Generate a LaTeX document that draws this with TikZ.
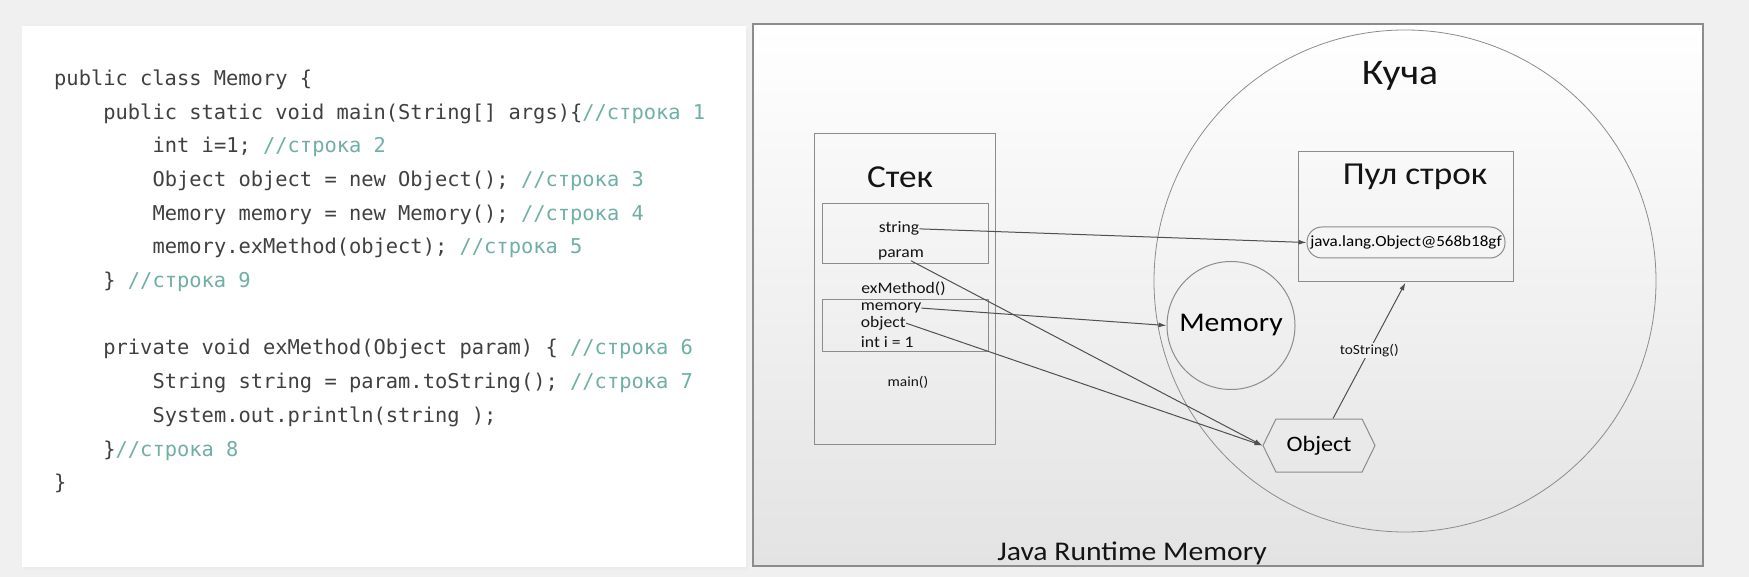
\documentclass[tikz,border=0pt]{standalone}
\usepackage{fontspec}
\setmainfont{Carlito}[FakeStretch=1.1]
\setmonofont{DejaVu Sans Mono}
\usetikzlibrary{arrows.meta,shapes.symbols}

\definecolor{codegray}{HTML}{404040}
\definecolor{cmtteal}{HTML}{6FAFA6}
\definecolor{pagebg}{HTML}{F0F0F0}
\definecolor{linegray}{HTML}{8C8C8C}
\definecolor{arrowgray}{HTML}{505050}

\tikzset{
  code/.style={anchor=base west, inner sep=0pt, text=codegray, font=\ttfamily\fontsize{20.4}{24}\selectfont},
  frame/.style={draw=linegray, line width=1pt, inner sep=0pt},
  lbl/.style={inner sep=0pt, text=black!92},
  varS/.style={lbl, font=\fontsize{16}{16}\selectfont},
  varXS/.style={lbl, font=\fontsize{14}{14}\selectfont},
  ref/.style={->, draw=arrowgray, line width=1pt},
}
\newcommand{\cmt}[1]{\textcolor{cmtteal}{#1}}

\begin{document}
\begin{tikzpicture}[x=1pt,y=-1pt,>={Latex[length=8pt,width=5pt]}]
\fill[pagebg] (0,0) rectangle (1749,577);
\useasboundingbox (0,0) rectangle (1749,577);

% code panel
\fill[black!7] (24,29) rectangle (749,570);
\fill[white] (22,26) rectangle (746,567);

\node[code] (l1)  at (54,85.4)    {public class Memory \{};
\node[code] (l2)  at (103.2,119.1) {public static void main(String[] args)\{\cmt{//строка 1}};
\node[code] (l3)  at (152.4,152.8) {int i=1; \cmt{//строка 2}};
\node[code] (l4)  at (152.4,186.5) {Object object = new Object(); \cmt{//строка 3}};
\node[code] (l5)  at (152.4,220.2) {Memory memory = new Memory(); \cmt{//строка 4}};
\node[code] (l6)  at (152.4,253.9) {memory.exMethod(object); \cmt{//строка 5}};
\node[code] (l7)  at (103.2,287.6) {\} \cmt{//строка 9}};
\node[code] (l8)  at (103.2,355.0) {private void exMethod(Object param) \{ \cmt{//строка 6}};
\node[code] (l9)  at (152.4,388.7) {String string = param.toString(); \cmt{//строка 7}};
\node[code] (l10) at (152.4,422.4) {System.out.println(string );};
\node[code] (l11) at (103.2,456.1) {\}\cmt{//строка 8}};
\node[code] (l12) at (54,489.8)    {\}};

% memory panel
\shade[top color=white, bottom color=black!11, draw=black!45, line width=2pt] (753,24) rectangle (1703,566);

\node[circle, frame, line width=0.8pt, minimum size=502pt] (heap) at (1405,281) {};
\node[lbl, anchor=base, font=\fontsize{36}{36}\selectfont] (heaplbl) at (1400,85) {Куча};

\node[frame, minimum width=181pt, minimum height=310pt] (stack) at (904.5,289) {};
\node[lbl, font=\fontsize{32}{32}\selectfont] (stacklbl) at (900,177) {Стек};
\node[frame, minimum width=166pt, minimum height=60pt] (exframe) at (905,234) {};
\node[frame, minimum width=166pt, minimum height=52pt] (mainframe) at (905,326) {};

\node[varS, anchor=base] (string) at (899,233) {string};
\node[varS, anchor=base] (param) at (901,258) {param};
\node[varS, anchor=base] (exlbl) at (903.5,294) {exMethod()};
\node[varS, anchor=base west] (memory) at (860.7,310.7) {memory};
\node[varS, anchor=base west] (object) at (860.7,327.3) {object};
\node[varS, anchor=base west] (inti) at (860.7,347.7) {int i = 1};
\node[varXS, anchor=base] (mainlbl) at (908,386.7) {main()};

\node[frame, minimum width=215pt, minimum height=130pt] (poolbox) at (1405.5,217) {};
\node[lbl, anchor=base, font=\fontsize{32}{32}\selectfont] (poollbl) at (1415,185) {Пул строк};
\node[frame, fill=white!96!black, rounded corners=15pt, minimum width=198pt, minimum height=31pt,
      font=\fontsize{15.5}{16}\selectfont] (pool) at (1406,242.5) {java.lang.Object@568b18gf};

\node[circle, frame, minimum size=128pt, font=\fontsize{27}{27}\selectfont] (memcirc) at (1231,325.5) {Memory};
\node[frame, signal, signal to=east and west, signal pointer angle=128, minimum width=112pt,
      minimum height=53pt, font=\fontsize{22}{22}\selectfont] (obj) at (1319,445.5) {Object};

\node[lbl, anchor=base, font=\fontsize{27}{27}\selectfont] (jrm) at (1132,560) {Java Runtime Memory};

\draw[ref] (string.east) -- (pool.west);
\draw[ref] (memory.east) -- (memcirc.west);
\draw[ref] ([xshift=10pt]param.south) -- (obj.west);
\draw[ref] (object.east) -- (obj.west);
\draw[ref] ([xshift=14pt]obj.north) -- node[varXS, fill=black!6, inner sep=1pt] {toString()} (poolbox.south);
\end{tikzpicture}
\end{document}
